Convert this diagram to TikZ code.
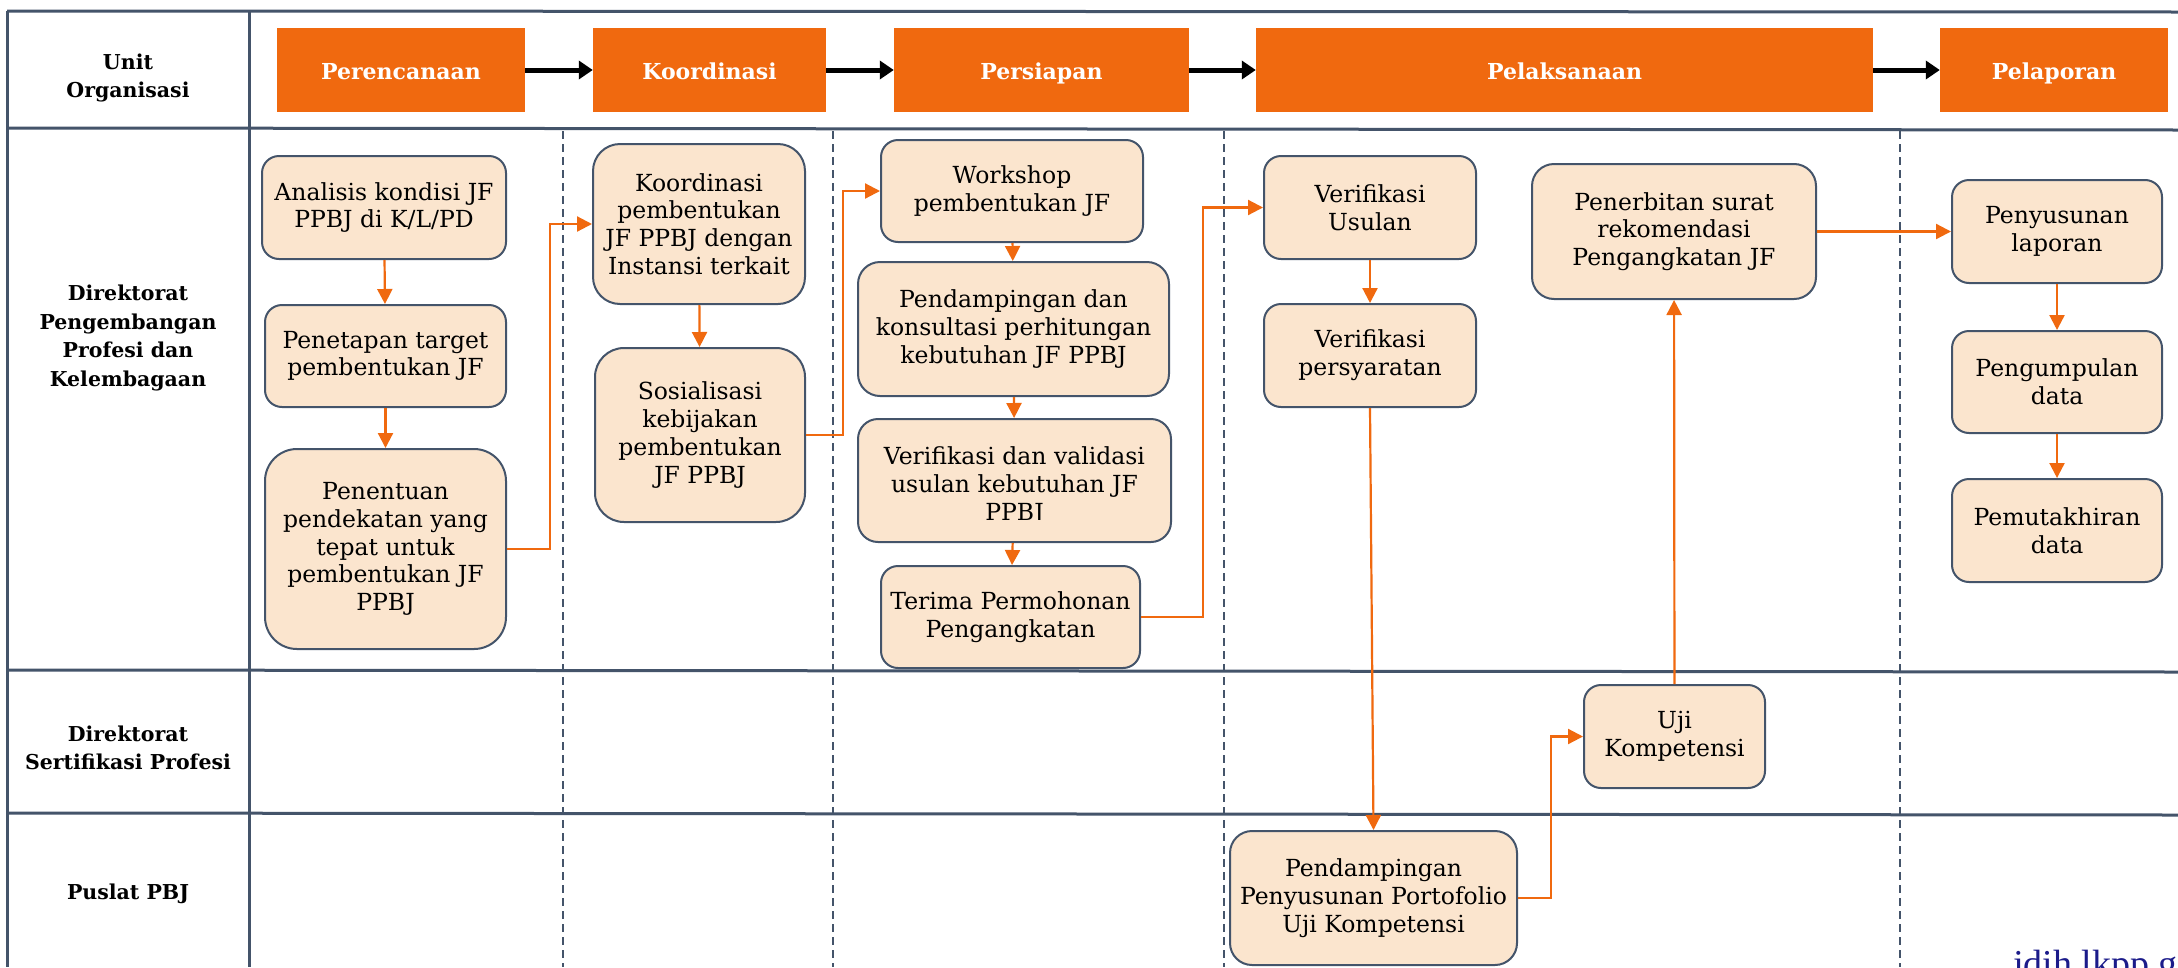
\documentclass[tikz,border=0pt]{standalone}
\usepackage{fontspec}
\setmainfont{DejaVu Serif}
\newfontfamily\sitefont{Liberation Serif}
\usetikzlibrary{arrows.meta}

\definecolor{phase}{HTML}{F0690F}
\definecolor{boxfill}{HTML}{FBE5CE}
\definecolor{slate}{HTML}{44546A}
\definecolor{navy}{HTML}{1B1B8A}

\begin{document}
\begin{tikzpicture}[x=1pt,y=-1pt,
  pbox/.style={draw=slate, line width=2pt, fill=boxfill, inner sep=0pt,
    align=center, font=\fontsize{23.5}{27.7}\selectfont},
  boxtext/.style={align=center, inner sep=0pt, font=\fontsize{23.5}{27.7}\selectfont},
  phasebox/.style={fill=phase, text=white, inner sep=0pt, minimum height=84pt,
    text height=20pt, text depth=2pt,
    font=\fontsize{22}{26}\selectfont\bfseries},
  lanelabel/.style={align=center, inner sep=0pt,
    font=\fontsize{20.5}{28.5}\selectfont\bfseries},
  flow/.style={draw=phase, line width=2.2pt, -{Triangle[length=15pt,width=15pt]}},
  phasearrow/.style={draw=black, line width=5pt, -{Triangle[length=14pt,width=18pt]}},
  tableline/.style={draw=slate, line width=3pt},
  divider/.style={draw=slate, line width=2pt, dash pattern=on 8pt off 5pt},
]
\clip (0,0) rectangle (2178,967);
\fill[white] (0,0) rectangle (2178,967);

% table frame
\draw[tableline] (7,11) -- (2178,12);
\draw[tableline] (7,128) -- (2178,130);
\draw[tableline] (7,670) -- (2178,672);
\draw[tableline] (7,813) -- (2178,815);
\draw[tableline] (7,11) -- (7,967);
\draw[tableline] (249,11) -- (249,967);

% phase dividers
\foreach \xx in {563,833,1224,1900}
  \draw[divider] (\xx,131) -- (\xx,967);

% lane labels
\node[lanelabel] (lblunit) at (128,78) {Unit\\Organisasi};
\node[lanelabel] (lbldir) at (128,338) {Direktorat\\Pengembangan\\Profesi dan\\Kelembagaan};
\node[lanelabel] (lblsert) at (128,748) {Direktorat\\Sertifikasi Profesi};
\node[lanelabel] (lblpus) at (128,894) {Puslat PBJ};

% phases
\node[phasebox, minimum width=248pt] (h1) at (401,70) {Perencanaan};
\node[phasebox, minimum width=233pt] (h2) at (709.5,70) {Koordinasi};
\node[phasebox, minimum width=295pt] (h3) at (1041.5,70) {Persiapan};
\node[phasebox, minimum width=617pt] (h4) at (1564.5,70) {Pelaksanaan};
\node[phasebox, minimum width=228pt] (h5) at (2054,70) {Pelaporan};
\draw[phasearrow] (h1.east) -- (h2.west);
\draw[phasearrow] (h2.east) -- (h3.west);
\draw[phasearrow] (h3.east) -- (h4.west);
\draw[phasearrow] (h4.east) -- (h5.west);

% Perencanaan
\node[pbox, minimum width=244pt, minimum height=103pt, rounded corners=17pt] (a1) at (384,207.5) {Analisis kondisi JF\\PPBJ di K/L/PD};
\node[pbox, minimum width=241pt, minimum height=102pt, rounded corners=17pt] (a2) at (385.5,356) {Penetapan target\\pembentukan JF};
\node[pbox, minimum width=241pt, minimum height=200pt, rounded corners=32pt] (a3) at (385.5,549) {Penentuan\\pendekatan yang\\tepat untuk\\pembentukan JF\\PPBJ};

% Koordinasi
\node[pbox, minimum width=212pt, minimum height=160pt, rounded corners=27pt] (k1) at (699,224) {Koordinasi\\pembentukan\\JF PPBJ dengan\\Instansi terkait};
\node[pbox, minimum width=210pt, minimum height=174pt, rounded corners=29pt] (k2) at (700,435) {Sosialisasi\\kebijakan\\pembentukan\\JF PPBJ};

% Persiapan
\node[pbox, minimum width=262pt, minimum height=102pt, rounded corners=17pt] (p1) at (1012,191) {Workshop\\pembentukan JF};
\node[pbox, minimum width=311pt, minimum height=134pt, rounded corners=22pt] (p2) at (1013.5,329) {Pendampingan dan\\konsultasi perhitungan\\kebutuhan JF PPBJ};
\node[pbox, minimum width=313pt, minimum height=123pt, rounded corners=20pt] (p3) at (1014.5,480.5) {};
\begin{scope}
  \clip (858,419) rectangle (1171,519);
  \node[boxtext] (p3text) at (1014.5,486) {Verifikasi dan validasi\\usulan kebutuhan JF\\PPBJ};
\end{scope}
\node[pbox, minimum width=259pt, minimum height=102pt, rounded corners=17pt] (p4) at (1010.5,617) {Terima Permohonan\\Pengangkatan};

% Pelaksanaan
\node[pbox, minimum width=212pt, minimum height=103pt, rounded corners=17pt] (l1) at (1370,207.5) {Verifikasi\\Usulan};
\node[pbox, minimum width=212pt, minimum height=103pt, rounded corners=17pt] (l2) at (1370,355.5) {Verifikasi\\persyaratan};
\node[pbox, minimum width=284pt, minimum height=135pt, rounded corners=22pt] (l3) at (1674,231.5) {Penerbitan surat\\rekomendasi\\Pengangkatan JF};
\node[pbox, minimum width=181pt, minimum height=103pt, rounded corners=17pt] (l4) at (1674.5,736.5) {Uji\\Kompetensi};
\node[pbox, minimum width=287pt, minimum height=134pt, rounded corners=22pt] (l5) at (1373.5,898) {Pendampingan\\Penyusunan Portofolio\\Uji Kompetensi};

% Pelaporan
\node[pbox, minimum width=210pt, minimum height=103pt, rounded corners=17pt] (r1) at (2057,231.5) {Penyusunan\\laporan};
\node[pbox, minimum width=210pt, minimum height=102pt, rounded corners=17pt] (r2) at (2057,382) {Pengumpulan\\data};
\node[pbox, minimum width=210pt, minimum height=103pt, rounded corners=17pt] (r3) at (2057,530.5) {Pemutakhiran\\data};

% flow
\draw[flow] (a1) -- (a2);
\draw[flow] (a2) -- (a3);
\draw[flow] (a3.east) -- ++(43,0) |- (k1.west);
\draw[flow] (k1) -- (k2);
\draw[flow] (k2.east) -- ++(37,0) |- (p1.west);
\draw[flow] (p1) -- (p2);
\draw[flow] (p2) -- (p3);
\draw[flow] (p3) -- (p4);
\draw[flow] (p4.east) -- ++(62,0) |- (l1.west);
\draw[flow] (l1) -- (l2);
\draw[flow] (l2.south) -- (l5.north);
\draw[flow] (l5.east) -- ++(33,0) |- (l4.west);
\draw[flow] (l4) -- (l3);
\draw[flow] (l3) -- (r1);
\draw[flow] (r1) -- (r2);
\draw[flow] (r2) -- (r3);

% site mark
\node[anchor=base west, inner sep=0pt, text=navy,
  font=\sitefont\fontsize{38}{44}\selectfont] (site) at (2013,976) {jdih.lkpp.go.id};
\end{tikzpicture}
\end{document}
